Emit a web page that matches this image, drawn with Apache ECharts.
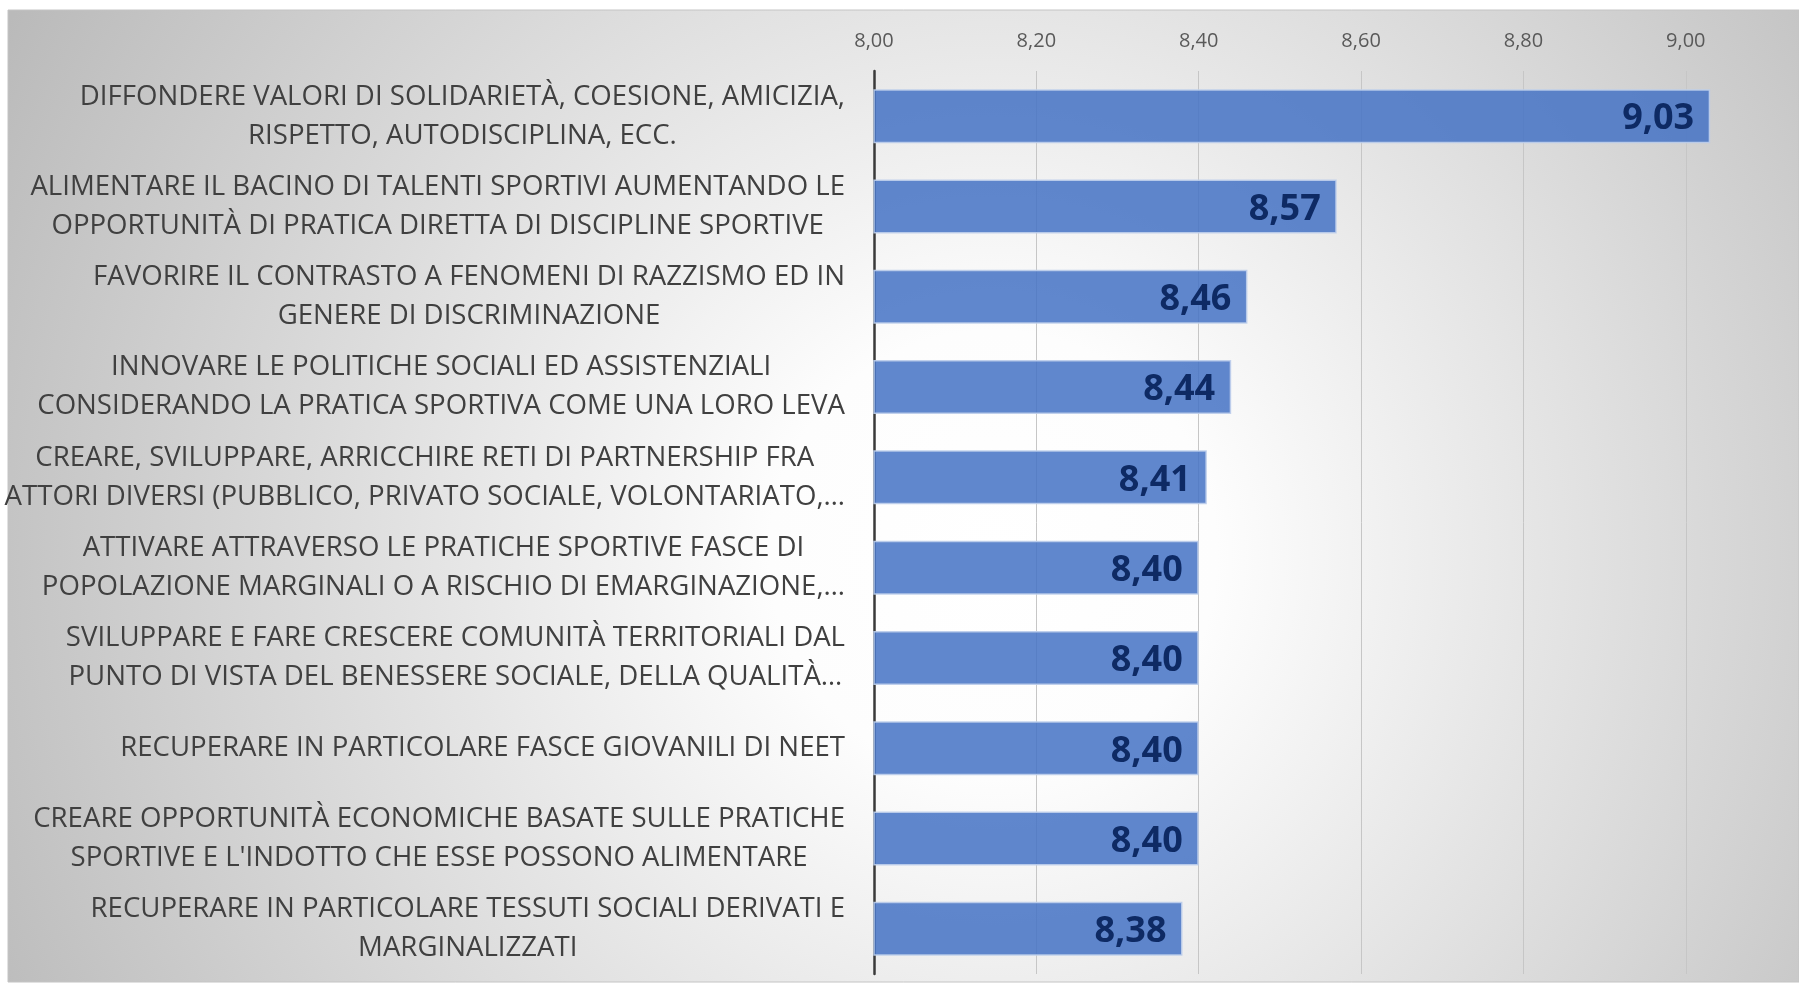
<!DOCTYPE html>
<html>
<head>
<meta charset="utf-8">
<script src="https://cdn.jsdelivr.net/npm/echarts@6/dist/echarts.min.js"></script>
<style>
  html, body { margin: 0; padding: 0; background: #fff; }
  #chart { width: 1799px; height: 998px; }
</style>
</head>
<body>
<div id="chart"></div>
<script>
const categories = [
  'DIFFONDERE VALORI DI SOLIDARIETÀ, COESIONE, AMICIZIA,\nRISPETTO, AUTODISCIPLINA, ECC.',
  'ALIMENTARE IL BACINO DI TALENTI SPORTIVI AUMENTANDO LE\nOPPORTUNITÀ DI PRATICA DIRETTA DI DISCIPLINE SPORTIVE',
  'FAVORIRE IL CONTRASTO A FENOMENI DI RAZZISMO ED IN\nGENERE DI DISCRIMINAZIONE',
  'INNOVARE LE POLITICHE SOCIALI ED ASSISTENZIALI\nCONSIDERANDO LA PRATICA SPORTIVA COME UNA LORO LEVA',
  'CREARE, SVILUPPARE, ARRICCHIRE RETI DI PARTNERSHIP FRA\nATTORI DIVERSI (PUBBLICO, PRIVATO SOCIALE, VOLONTARIATO,…',
  'ATTIVARE ATTRAVERSO LE PRATICHE SPORTIVE FASCE DI\nPOPOLAZIONE MARGINALI O A RISCHIO DI EMARGINAZIONE,…',
  'SVILUPPARE E FARE CRESCERE COMUNITÀ TERRITORIALI DAL\nPUNTO DI VISTA DEL BENESSERE SOCIALE, DELLA QUALITÀ…',
  'RECUPERARE IN PARTICOLARE FASCE GIOVANILI DI NEET',
  'CREARE OPPORTUNITÀ ECONOMICHE BASATE SULLE PRATICHE\nSPORTIVE E L\'INDOTTO CHE ESSE POSSONO ALIMENTARE',
  'RECUPERARE IN PARTICOLARE TESSUTI SOCIALI DERIVATI E\nMARGINALIZZATI'
]
const values = [9.03, 8.57, 8.46, 8.44, 8.41, 8.40, 8.40, 8.40, 8.40, 8.38]
const axisMin = 8
const axisMax = 9.1
const axisStep = 0.2

const chart = echarts.init(document.getElementById('chart'))

function formatComma(value) {
  return Number(value).toFixed(2).replace('.', ',')
}

chart.setOption({
  animation: false,
  graphic: [
    {
      type: 'rect',
      z: -10,
      silent: true,
      shape: { x: 8, y: 10, width: 1791, height: 972 },
      style: {
        fill: new echarts.graphic.RadialGradient(0.55, 0.56, 1.15, [
          { offset: 0, color: '#ffffff' },
          { offset: 0.2, color: '#fdfdfd' },
          { offset: 1, color: '#bababa' }
        ]),
        stroke: '#c4c4c4',
        lineWidth: 1
      }
    }
  ],
  grid: { left: 874, right: 32, top: 71, bottom: 24, containLabel: false, outerBoundsMode: 'none' },
  xAxis: {
    type: 'value',
    position: 'top',
    min: axisMin,
    max: axisMax,
    interval: axisStep,
    axisLine: { show: false },
    axisTick: { show: false },
    axisLabel: {
      margin: 20,
      color: '#595959',
      fontSize: 20,
      fontFamily: 'Open Sans',
      showMaxLabel: false,
      formatter: formatComma
    },
    splitLine: { showMaxLine: false, lineStyle: { color: '#c6c6c6', width: 1 } }
  },
  yAxis: {
    type: 'category',
    inverse: true,
    data: categories,
    axisLine: { show: true, lineStyle: { color: '#3a3a3a', width: 2.5 } },
    axisTick: { show: false },
    axisLabel: {
      margin: 29,
      formatter(value) {
        return value.split('\n').map((line) => '{c|' + line + '}').join('\n')
      },
      rich: {
        c: {
          align: 'center',
          fontSize: 27.6,
          lineHeight: 39,
          color: '#404040',
          fontFamily: 'Open Sans'
        }
      }
    }
  },
  series: [
    {
      type: 'bar',
      data: values,
      barWidth: 54,
      itemStyle: {
        color: 'rgba(68, 114, 196, 0.85)',
        borderColor: 'rgba(190, 206, 235, 0.9)',
        borderWidth: 1.5
      },
      label: {
        show: true,
        position: 'insideRight',
        distance: 16,
        offset: [0, 3],
        color: '#0e2a64',
        fontSize: 36,
        fontWeight: 'bold',
        fontFamily: 'Open Sans',
        formatter: (p) => formatComma(p.value)
      }
    }
  ]
})
</script>
</body>
</html>
